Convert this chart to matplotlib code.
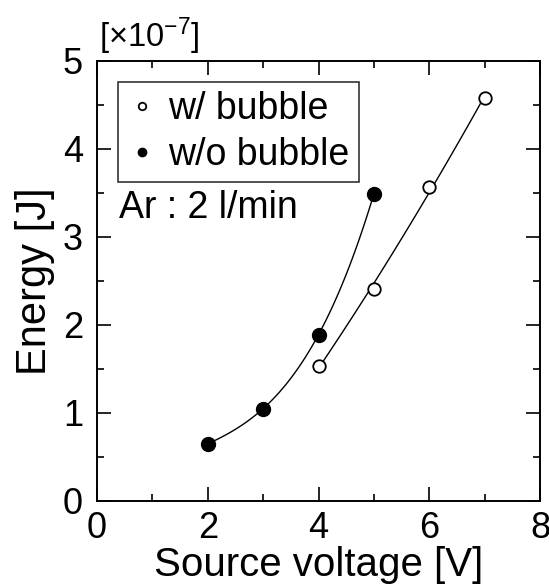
import matplotlib
matplotlib.use("Agg")
import matplotlib.pyplot as plt
import numpy as np
from matplotlib.ticker import MultipleLocator

plt.rcParams['font.family'] = ['Liberation Sans', 'DejaVu Sans']
plt.rcParams['mathtext.fontset'] = 'custom'
plt.rcParams['mathtext.rm'] = 'Liberation Sans'
plt.rcParams['mathtext.default'] = 'regular'

# data (energy in units of 1e-7 J)
v_with = [4, 5, 6, 7]
e_with = [1.53, 2.41, 3.57, 4.58]
v_without = [2, 3, 4, 5]
e_without = [0.65, 1.05, 1.89, 3.49]
x_ticks = [0, 2, 4, 6, 8]
y_ticks = [0, 1, 2, 3, 4, 5]

fig = plt.figure(figsize=(5.49, 5.88), dpi=100)
ax = fig.add_axes([97/549, (588-501)/588, 443/549, 440/588])

# smooth guide curves through the points
xs = np.linspace(v_without[0], v_without[-1], 100)
ax.plot(xs, np.polyval(np.polyfit(v_without, e_without, 3), xs), color="black", lw=1.0, zorder=2)
xs = np.linspace(v_with[0], v_with[-1], 100)
ax.plot(xs, np.polyval(np.polyfit(v_with, e_with, 2), xs), color="black", lw=1.0, zorder=2)

ax.plot(v_with, e_with, "o", ms=9, mfc="white", mec="black", mew=1.3, ls="none", label="w/ bubble", zorder=3)
ax.plot(v_without, e_without, "o", ms=10, mfc="black", mec="black", ls="none", label="w/o bubble", zorder=3)

ax.set_xlim(0, 8)
ax.set_ylim(0, 5)
ax.set_xticks(x_ticks)
ax.set_yticks(y_ticks)
ax.xaxis.set_minor_locator(MultipleLocator(1))
ax.yaxis.set_minor_locator(MultipleLocator(0.5))
ax.tick_params(which="both", direction="in", top=True, right=True, width=1.2, labelsize=26)
ax.tick_params(axis="x", which="both", pad=7)
ax.tick_params(axis="y", which="both", pad=10)
ax.tick_params(which="major", length=10)
ax.tick_params(which="minor", length=5)
for s in ax.spines.values():
    s.set_linewidth(1.4)

ax.set_xlabel("Source voltage [V]", fontsize=29, labelpad=0)
ax.set_ylabel("Energy [J]", fontsize=30, labelpad=6)
fig.text(99/549, (588-57)/588, r"[×10$^{-7}$]", fontsize=23.5, ha="left", va="bottom")

leg = ax.legend(loc="upper left", bbox_to_anchor=(0.047, 0.952), fontsize=27, frameon=True,
                fancybox=False, edgecolor="black", handletextpad=0.3, handlelength=0.8,
                borderpad=0.25, labelspacing=0.25, borderaxespad=0, markerscale=0.6)
leg.get_frame().set_linewidth(1.2)

ax.text(0.05, 0.665, "Ar : 2 l/min", transform=ax.transAxes, fontsize=27, va="center", ha="left")

fig.savefig("out.png", dpi=100)
